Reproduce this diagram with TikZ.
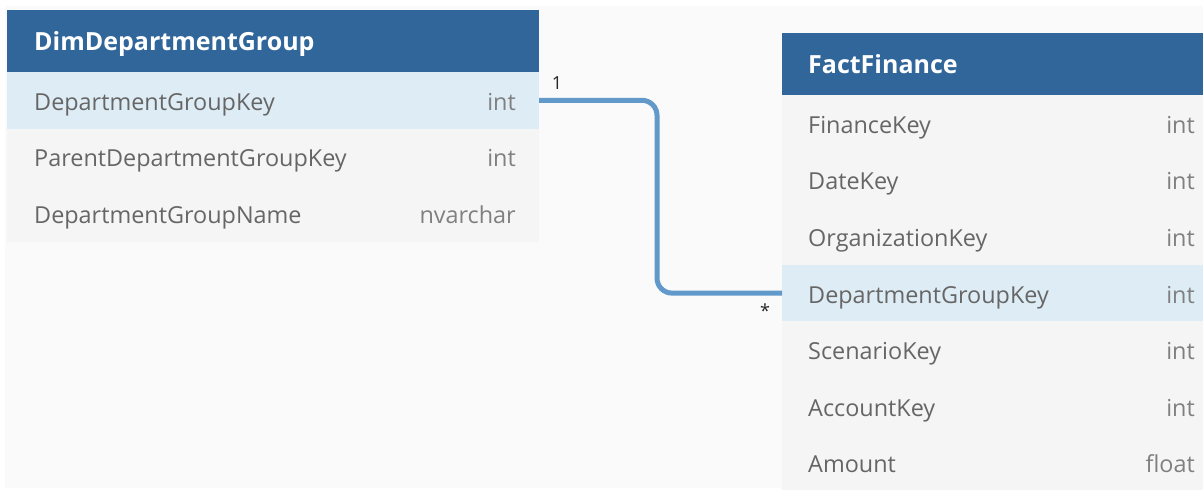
\documentclass[tikz,border=0pt]{standalone}
\usepackage{fontspec}
\setmainfont{Open Sans}
\definecolor{hdr}{HTML}{31669A}
\definecolor{rowbg}{HTML}{F5F5F5}
\definecolor{rowhl}{HTML}{DEEDF5}
\definecolor{canvas}{HTML}{FAFAFA}
\definecolor{txt}{HTML}{666666}
\definecolor{typ}{HTML}{808080}
\definecolor{conncol}{HTML}{6199CA}
\tikzset{
  tbl/.style={anchor=north west, inner sep=0pt, outer sep=0pt, draw=none},
  hdrbox/.style={tbl, fill=hdr, minimum height=62pt},
  rowbox/.style={tbl, fill=rowbg, minimum height=56.6pt},
  hlbox/.style={rowbox, fill=rowhl},
  hdrtxt/.style={anchor=base west, inner sep=0pt, text=white, font=\fontsize{25}{29}\selectfont\bfseries},
  nametxt/.style={anchor=base west, inner sep=0pt, text=txt, font=\fontsize{23.4}{27}\selectfont},
  typetxt/.style={anchor=base east, inner sep=0pt, text=typ, font=\fontsize{23.4}{27}\selectfont},
  conn/.style={draw=conncol, line width=5pt, rounded corners=15pt},
  cardtxt/.style={inner sep=0pt, text=black!85, font=\fontsize{18}{20}\selectfont}
}
\begin{document}
\begin{tikzpicture}[x=1pt,y=-1pt]
\useasboundingbox (0,0) rectangle (1203,490);
\fill[white] (0,0) rectangle (1203,490);
\fill[canvas] (5,6) rectangle (1203,488);
% left table
\node[hdrbox, minimum width=532pt] (dh) at (7,10) {};
\node[hlbox, minimum width=532pt] (d1) at (7,72) {};
\node[rowbox, minimum width=532pt] (d2) at (7,128.5) {};
\node[rowbox, minimum width=532pt] (d3) at (7,185) {};
\node[hdrtxt] (dht) at ([xshift=27pt,yshift=-9pt]dh.west) {DimDepartmentGroup};
\node[nametxt] (d1n) at ([xshift=27pt,yshift=-10pt]d1.west) {DepartmentGroupKey};
\node[typetxt] (d1t) at ([xshift=-23pt,yshift=-10pt]d1.east) {int};
\node[nametxt] (d2n) at ([xshift=27pt,yshift=-10pt]d2.west) {ParentDepartmentGroupKey};
\node[typetxt] (d2t) at ([xshift=-23pt,yshift=-10pt]d2.east) {int};
\node[nametxt] (d3n) at ([xshift=27pt,yshift=-10pt]d3.west) {DepartmentGroupName};
\node[typetxt] (d3t) at ([xshift=-23pt,yshift=-10pt]d3.east) {nvarchar};
% right table
\node[hdrbox, minimum width=421pt] (fh) at (782,33) {};
\node[rowbox, minimum width=421pt] (f1) at (782,95) {};
\node[rowbox, minimum width=421pt] (f2) at (782,151.6) {};
\node[rowbox, minimum width=421pt] (f3) at (782,208.2) {};
\node[hlbox, minimum width=421pt] (f4) at (782,264.8) {};
\node[rowbox, minimum width=421pt] (f5) at (782,321.4) {};
\node[rowbox, minimum width=421pt] (f6) at (782,378) {};
\node[rowbox, minimum width=421pt] (f7) at (782,434.6) {};
\node[hdrtxt] (fht) at ([xshift=26pt,yshift=-9pt]fh.west) {FactFinance};
\node[nametxt] (f1n) at ([xshift=26pt,yshift=-10pt]f1.west) {FinanceKey};
\node[typetxt] (f1t) at ([xshift=-8pt,yshift=-10pt]f1.east) {int};
\node[nametxt] (f2n) at ([xshift=26pt,yshift=-10pt]f2.west) {DateKey};
\node[typetxt] (f2t) at ([xshift=-8pt,yshift=-10pt]f2.east) {int};
\node[nametxt] (f3n) at ([xshift=26pt,yshift=-10pt]f3.west) {OrganizationKey};
\node[typetxt] (f3t) at ([xshift=-8pt,yshift=-10pt]f3.east) {int};
\node[nametxt] (f4n) at ([xshift=26pt,yshift=-10pt]f4.west) {DepartmentGroupKey};
\node[typetxt] (f4t) at ([xshift=-8pt,yshift=-10pt]f4.east) {int};
\node[nametxt] (f5n) at ([xshift=26pt,yshift=-10pt]f5.west) {ScenarioKey};
\node[typetxt] (f5t) at ([xshift=-8pt,yshift=-10pt]f5.east) {int};
\node[nametxt] (f6n) at ([xshift=26pt,yshift=-10pt]f6.west) {AccountKey};
\node[typetxt] (f6t) at ([xshift=-8pt,yshift=-10pt]f6.east) {int};
\node[nametxt] (f7n) at ([xshift=26pt,yshift=-10pt]f7.west) {Amount};
\node[typetxt] (f7t) at ([xshift=-8pt,yshift=-10pt]f7.east) {float};
% connector
\coordinate (bend) at (657,0);
\draw[conn] (d1.east) -- (d1.east -| bend) |- (f4.west);
\node[cardtxt] (c1) at (557,83) {1};
\node[cardtxt] (cm) at (765,311) {*};
\end{tikzpicture}
\end{document}
